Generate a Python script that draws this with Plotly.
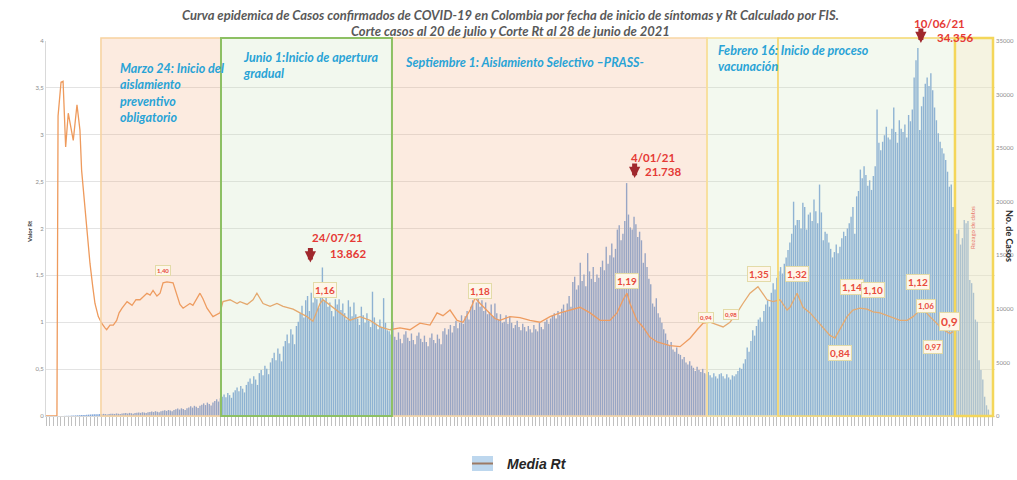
import pandas as pd
import numpy as np
import plotly.graph_objects as go

# ---------------- DATA ----------------
start = pd.Timestamp("2020-02-26")

# daily confirmed cases by symptom onset (from 2020-02-26)
casos = [
    0, 0, 0, 0, 0, 0, 0, 3, 5, 8, 12, 18, 25, 30, 40, 48, 55, 65, 72, 85, 95, 105, 118, 125, 140, 150, 160, 170,
    170, 190, 160, 200, 180, 150, 190, 200, 220, 190, 240, 210, 180, 230,
    250, 270, 230, 290, 260, 220, 280, 300, 330, 290, 350, 320, 270, 340,
    380, 420, 370, 450, 400, 350, 440, 480, 530, 470, 560, 510, 440, 560,
    620, 690, 600, 720, 660, 570, 720, 800, 900, 780, 950, 860, 740, 960,
    1050, 1180, 1020, 1250, 1130, 980, 1260, 1400, 1560, 1350, 1650,
    1800, 2000, 1750, 2150, 1950, 1700, 2200, 2400, 2650, 2300, 2800, 2550, 2200, 2900,
    3200, 3500, 3000, 3700, 3400, 2900,
    4000, 4300, 3800, 4700, 4400, 3900, 5000, 5400, 5900, 5200, 6300, 5800, 5100, 6500,
    7000, 7600, 6800, 8100, 7600, 6700, 8400, 8800,
    9600, 10300, 9200, 10800, 11200, 9800, 11500, 10600, 11900, 10900, 10100, 12300,
    13862,
    10800, 11300, 10200, 10600, 9800, 9300, 10900, 10400, 10900, 9900, 10500, 9600, 9000, 10800,
    10200, 9300, 10600, 9500, 9100, 8500, 10200, 9400, 8700, 9600, 8900, 8300, 11600, 9200,
    8600, 8100, 9000, 8300, 11000, 8700, 8000, 7900, 7600,
    8800, 7400, 7100, 7800, 7200, 6800, 7600, 7900, 7300, 7000, 7700, 7100, 6700, 7500,
    7800, 7200, 6900, 7500, 6900, 6500, 7300, 7700, 7100, 6800, 7600, 7200, 6700, 7900, 8200,
    7600, 8100, 8500, 7800, 8400, 8900, 8200, 8700, 9400, 8600, 9300, 9800, 9000, 10200,
    10800, 9900, 10600, 11100, 10200, 10800, 9800, 10600, 9500, 9700, 10400, 9300, 10500, 9600,
    9000, 9500, 8700, 8800, 9400, 8600, 9300, 8700, 8200, 8500, 8900, 8300,
    8000, 8600, 8300, 7900, 8400, 8100, 7800, 8500, 8100, 7900, 8700, 8300, 8100, 8800,
    9000, 8600, 9100, 9400, 9600, 9100, 9800, 9400, 10000, 10400, 9800,
    10500, 11200, 10200, 12500, 13000, 11800, 12200, 14300, 12600, 13200, 12100, 15200, 13500, 12800,
    13900, 12500, 13200, 12900, 13900, 14500, 13600, 15800, 14200, 15000, 16100, 14800, 15600, 17400,
    17800, 16400, 17000, 18200,
    21738,
    18800, 17600, 17400, 18600, 17900, 16700, 17200, 16400, 14300, 15200, 13900, 12800, 12300, 10500,
    10200, 11000, 9600, 9200, 8700, 8100, 7700, 7100, 6600, 6900, 6200, 6000, 6400, 5800,
    5700, 5300, 5500, 5000, 4800, 5100, 4700, 4500, 4200, 4600, 4300, 4100, 4400, 4000, 3900,
    4100, 3800, 3600, 4000, 3700, 3500, 3900, 4000, 3700, 3500, 3900, 3600, 3400, 3800,
    3700, 3900, 4200, 4500, 4400,
    4900, 5300, 6400, 6000, 7000, 8000, 7500, 8400, 9000, 9200, 8800, 9800, 10400, 10800,
    10200, 11500, 12400, 11800, 12900, 13500, 13900, 13300, 14200, 14800, 15500, 16200, 17000, 20000,
    17800, 18300,
    18300, 17500, 19900, 19500, 17400, 18800, 19000, 18200, 20200, 19100, 18000, 21600, 19000, 16400,
    17200, 17000, 16200, 15600, 14800, 15300, 16000, 15200, 15800, 16600, 17200, 16800, 17500, 18000,
    18600, 19500, 17000, 20500,
    21000, 23000, 22200, 23300, 22500, 21500, 22000, 21100, 22400, 23300, 28600, 25500, 24800, 25600,
    26200, 27000, 26000, 25800, 26800, 28800, 26500, 25500, 27600, 26800, 26500, 27200, 26000, 28100,
    27500, 28600, 31600, 33200,
    34356,
    26700, 28900, 29800, 31000, 31600, 30800, 32000, 30400, 28800, 27600, 26400, 25600, 25000, 24500,
    23900, 22800, 21400, 21600, 19500, 17400, 17000, 17400, 16000, 16600, 18300, 18000, 18200, 12700,
    12400, 11500, 9000, 8800, 5200, 4300, 3400, 1800, 1000, 600,
]

# Media Rt (days since 2020-02-26, value)
rt_day = [
    0, 5.9, 6.5, 8.1, 9.2, 10.6, 12.0, 13.3, 14.7, 16.7, 18.3, 19.2, 21, 22.3, 23.7, 25.2, 26.4, 28.2,
    30, 31.8, 32.7, 34.5, 36.3, 38.1, 39.4, 41, 43.7, 46.4, 48.5, 50.7, 54.4, 56.1, 57.7, 59.8, 61.5,
    63.1, 65.2, 68.5, 70.6, 72.2, 73.9, 77.6, 79.2, 83, 84.6, 86.8, 90, 93.8, 95.4, 99.2, 103, 104.6,
    108.4, 111.6, 113.7, 117, 120.8, 124.5, 127.8, 133.2, 136.9, 140.7, 143.9, 147.7, 149.3, 153.1,
    158.5, 163.9, 169.3, 174.7, 180.1, 185.4, 190.8, 196.2, 201.6, 207, 210.8, 214, 217.8, 221.6,
    224.8, 228.6, 231.3, 234, 237.7, 242, 244.7, 250.1, 255.5, 260.9, 266.3, 271.7, 277.1, 282.5,
    287.9, 293.3, 298.7, 304, 307.8, 311.1, 313.2, 314.8, 318.6, 321.8, 325.6, 329.4, 336.4, 341.8,
    347.2, 351, 354.2, 357.9, 361.7, 365, 368.7, 372.5, 375.7, 379.5, 383.8, 388.7, 391.9, 395.7,
    399.5, 401.1, 404.9, 408.1, 411.9, 415.6, 418.9, 422.6, 425.3, 428, 431.8, 435, 438.8, 442.6,
    445.8, 449.6, 455, 460.4, 464.2, 467.4, 471.2, 472.8, 476.5, 480.3, 483.6, 487.3, 489,
]
rt_val = [
    0, 0, 3.2, 3.56, 3.57, 2.87, 3.23, 3.1, 2.94, 3.32, 3.05, 2.62, 2.2, 1.98, 1.63, 1.38, 1.2, 1.06,
    0.99, 0.94, 0.92, 0.97, 0.97, 1.02, 1.1, 1.15, 1.22, 1.18, 1.24, 1.24, 1.31, 1.29, 1.34, 1.28, 1.31,
    1.42, 1.43, 1.42, 1.28, 1.19, 1.15, 1.2, 1.18, 1.31, 1.25, 1.15, 1.06, 1.1, 1.22, 1.24, 1.2, 1.22,
    1.19, 1.24, 1.31, 1.2, 1.17, 1.2, 1.17, 1.14, 1.1, 1.06, 1.01, 1.2, 1.24, 1.18,
    1.1, 1.02, 1.06, 1.02, 0.95, 0.92, 0.94, 0.92, 0.99, 0.97, 1.1, 1.07, 1.13, 1.02,
    1.0, 1.13, 1.26, 1.2, 1.13, 1.04, 1.02, 1.06, 1.05, 1.02, 1.0, 1.06, 1.1, 1.13,
    1.16, 1.1, 1.02, 1.02, 1.1, 1.24, 1.31, 1.2, 1.02, 0.95, 0.84, 0.79, 0.75, 0.74,
    0.83, 0.92, 0.99, 1.0, 0.97, 0.95, 1.0, 1.1, 1.2, 1.31, 1.38, 1.24, 1.22, 1.24,
    1.13, 1.16, 1.31, 1.16, 1.1, 1.02, 0.95, 0.86, 0.83, 0.92, 1.06, 1.13, 1.15, 1.14,
    1.11, 1.1, 1.06, 1.02, 1.02, 1.06, 1.13, 1.14, 1.06, 0.99, 0.92, 0.88, 0.9,
]

# Rt value labels (day offset, position in Rt units, text, font size)
lbl_text = ["1,40", "1,16", "1,18", "1,19", "0,94", "0,98", "1,35", "1,32", "1,14", "1,10", "1,12", "1,06", "0,9", "0,97", "0,84"]
lbl_day = [63.1, 150.4, 234, 313.2, 355.8, 369.3, 384.4, 404.9, 434.5, 445.8, 470.1, 474.4, 487.3, 478.2, 428]
lbl_y = [1.557, 1.344, 1.333, 1.44, 1.056, 1.088, 1.515, 1.515, 1.376, 1.344, 1.429, 1.173, 1.003, 0.736, 0.672]
lbl_size = [6, 10, 10, 10, 6, 6, 10, 10, 10, 10, 10, 8, 12, 8, 10]

# peaks
peak_dates = ["2020-07-24", "2021-01-04", "2021-06-10"]
peak_text = ["24/07/21", "4/01/21", "10/06/21"]

# periods
reg_start = ["2020-03-26 15:00", "2020-05-30 08:00", "2020-08-30 12:00", "2021-02-16 08:00", "2021-03-26 14:00", "2021-06-30 00:00"]
reg_end = reg_start[1:] + ["2021-07-20 12:00"]
reg_fill = ["#F1A472", "#C3DFB1", "#F1A472", "#C8E3B6", "#C8E3B6", "#E9E5BD"]
reg_op = [0.22, 0.22, 0.22, 0.22, 0.22, 0.45]
reg_line = ["#F7D29E", "#8DC063", "#F7D6A4", "#F8E19A", "#F5D76E", "#F4D65A"]
reg_lw = [1.5, 2, 1.5, 1.5, 1.5, 2.5]

reg_text = [
    "Marzo 24: Inicio del<br>aislamiento<br>preventivo<br>obligatorio",
    "Junio 1:Inicio de apertura<br>gradual",
    "Septiembre 1: Aislamiento Selectivo \u2013PRASS-",
    "Febrero 16: Inicio de proceso<br>vacunaci\u00f3n",
]

# ---------------- FIGURE ----------------
fechas = pd.date_range(start, periods=len(casos), freq="D")
rt_x = start + pd.to_timedelta(rt_day, unit="D")

W, H = 1017, 480
PL, PR, PT, PB = 46, 995, 41, 416  # plot area in page pixels
L, T, R, B = PL, PT, W - PR, H - PB
pw, ph = PR - PL, PB - PT


def px(x):
    return (x - PL) / pw


def py(y):
    return (PB - y) / ph


fig = go.Figure()
fig.add_trace(go.Bar(x=fechas, y=casos, marker=dict(color="#7FA6DB", line=dict(width=0)),
                     yaxis="y", showlegend=False, hoverinfo="skip"))
fig.add_trace(go.Scatter(x=rt_x, y=rt_val, mode="lines", line=dict(color="#EE9A5C", width=1.3),
                         yaxis="y2", name="Media Rt", showlegend=False))

shapes = []
for s, e, f, o in zip(reg_start, reg_end, reg_fill, reg_op):
    shapes.append(dict(type="rect", xref="x", yref="paper", x0=s, x1=e, y0=0, y1=py(38),
                       fillcolor=f, opacity=o, line=dict(width=0), layer="above"))
order = [0, 2, 3, 4, 5, 1]
for k in order:
    shapes.append(dict(type="rect", xref="x", yref="paper", x0=reg_start[k], x1=reg_end[k], y0=0, y1=py(38),
                       fillcolor="rgba(0,0,0,0)", line=dict(color=reg_line[k], width=reg_lw[k]), layer="above"))

# manual legend
shapes.append(dict(type="rect", xref="paper", yref="paper", x0=px(472), x1=px(493), y0=py(471), y1=py(456),
                   fillcolor="#BDD7EE", line=dict(width=0)))
shapes.append(dict(type="line", xref="paper", yref="paper", x0=px(472), x1=px(493), y0=py(463.5), y1=py(463.5),
                   line=dict(color="#9C7A65", width=2)))

ann = []


def pa(x, y, text, size, color, family="Lato", xa="center", ya="middle", angle=0, align="center"):
    ann.append(dict(xref="paper", yref="paper", x=px(x), y=py(y), xanchor=xa, yanchor=ya, align=align,
                    showarrow=False, textangle=angle, text=text,
                    font=dict(family=family, size=size, color=color)))


# title
pa(510, 15, "<b><i>Curva epidemica de Casos confirmados de COVID-19 en Colombia por fecha de inicio de s\u00edntomas y Rt Calculado por FIS.</i></b>", 13, "#595959")
pa(510, 31, "<b><i>Corte casos al 20 de julio y Corte Rt al 28 de junio de 2021</i></b>", 13, "#595959")

# period texts
reg_pos = [(118, 59, "top"), (241, 48, "top"), (403, 62, "middle"), (716, 41, "top")]
for t, (x, y, ya) in zip(reg_text, reg_pos):
    pa(x, y, "<b><i>" + t + "</i></b>", 12.5, "#29A3D6", xa="left", ya=ya, align="left")

pa(972, 228, "Rezago de datos", 6, "#E8766A", angle=-90)

# Rt labels
for t, d, yv, sz in zip(lbl_text, lbl_day, lbl_y, lbl_size):
    ann.append(dict(x=start + pd.Timedelta(days=d), y=yv, xref="x", yref="y2", showarrow=False,
                    xanchor="center", yanchor="middle",
                    text="<b>" + t + "</b>", font=dict(family="Lato", size=sz, color="#E8493C"),
                    bgcolor="#FEF6E9", bordercolor="#E3DBA8", borderwidth=1, borderpad=1))

# peaks
txt_off = [(15, 30), (26, 26), (22, 24)]
val_off = [(26, 14), (36, 12), (37, 10)]
arr_dx = [-12, 8, 3]
for d, t, to, vo, ax in zip(peak_dates, peak_text, txt_off, val_off, arr_dx):
    dt = pd.Timestamp(d)
    v = casos[(dt - start).days]
    vs = f"{v:,}".replace(",", ".")
    ann.append(dict(x=dt, y=v, xref="x", yref="y", xshift=to[0], yshift=to[1], showarrow=False,
                    xanchor="center", yanchor="middle",
                    text="<b>" + t + "</b>", font=dict(family="Lato", size=11.5, color="#E53935")))
    ann.append(dict(x=dt, y=v, xref="x", yref="y", xshift=vo[0], yshift=vo[1], showarrow=False,
                    xanchor="center", yanchor="middle",
                    text="<b>" + vs + "</b>", font=dict(family="Lato", size=11.5, color="#E53935")))
    ann.append(dict(x=dt, y=v, xref="x", yref="y", xshift=ax, yshift=5, text="", showarrow=True,
                    ax=0, ay=-16, arrowhead=2, arrowsize=0.45, arrowwidth=5, arrowcolor="#A0282D"))

# axis titles
pa(29, 232, "<b>Valor Rt</b>", 6, "#404040", angle=-90)
pa(1010, 236, "<b>No. de Casos</b>", 9, "#262626", angle=90)

# legend text
pa(505, 464, "<b><i>Media Rt</i></b>", 14, "#262626", family="Liberation Sans", xa="left")

fig.update_layout(
    width=W, height=H,
    margin=dict(l=L, r=R, t=T, b=B, pad=0),
    paper_bgcolor="white", plot_bgcolor="white",
    separators=",.",
    bargap=0.25,
    hovermode=False,
    shapes=shapes, annotations=ann,
    xaxis=dict(range=[start, start + pd.Timedelta(days=511.58)], showgrid=False, ticks="outside", ticklen=9,
               tickcolor="#C0C0C0", tick0="2020-02-26", dtick=2 * 86400000, showticklabels=False,
               showline=True, linecolor="#D9D9D9", zeroline=False, automargin=False),
    yaxis=dict(side="right", range=[0, 35000], tickvals=list(range(0, 35001, 5000)), tickformat="d",
               showgrid=False, zeroline=False, automargin=False,
               tickfont=dict(family="Lato", size=6, color="#8C8C8C")),
    yaxis2=dict(overlaying="y", side="left", range=[0, 4], tick0=0, dtick=0.5, showgrid=True, automargin=False,
                gridcolor="#E3E3E3", zeroline=False, tickfont=dict(family="Lato", size=6, color="#8C8C8C"),
                showline=True, linecolor="#D9D9D9"),
)

fig.write_html("out.html", config={"displayModeBar": False, "staticPlot": True},
               post_script="document.body.style.margin='0';document.body.style.overflow='hidden';")
